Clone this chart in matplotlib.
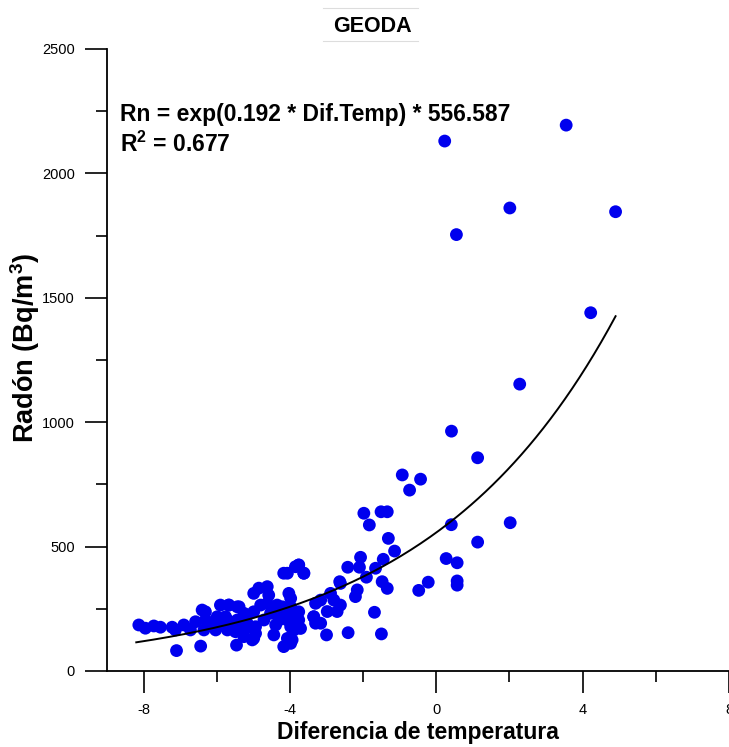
import matplotlib
matplotlib.use("Agg")
import matplotlib.pyplot as plt
import numpy as np
from matplotlib.lines import Line2D

plt.rcParams['font.family'] = ['Liberation Sans', 'DejaVu Sans']
plt.rcParams['mathtext.fontset'] = 'custom'
plt.rcParams['mathtext.bf'] = 'Liberation Sans:bold'
plt.rcParams['mathtext.rm'] = 'Liberation Sans:bold'
plt.rcParams['mathtext.default'] = 'bf'

# ---- data ----
dif_temp = [
    0.23, 3.55, 2.01, 0.55, 4.90, 4.22, 2.28, 0.415, 1.13, -0.93, -0.43, -0.73,
    0.41, 2.02, 1.13, 0.27, 0.57, -0.22, -0.48, 0.57, 0.57,
    -1.98, -1.51, -1.34, -1.83, -1.31, -1.14, -2.07, -1.45, -3.76, -3.62,
    -2.42, -2.10, -1.66, -1.91, -1.48, -1.34, -2.64, -2.16, -2.21, -1.69,
    -3.00, -2.41, -1.50, -3.98, -3.89, -3.76, -3.30, -3.16, -2.89, -2.62,
    -3.35, -3.16, -2.98, -2.71, -2.80, -2.62, -3.98,
    -8.13, -7.95, -7.72, -7.54, -7.22, -7.13, -7.10, -6.90, -6.72, -6.58,
    -6.44, -6.31, -6.17, -6.03, -5.90, -5.76, -5.67, -5.44, -5.71, -5.46,
    -5.53, -5.35, -5.17, -4.99, -5.26, -5.08, -5.26, -4.99, -4.94,
    -4.99, -4.62, -4.80, -4.71, -4.53, -4.44, -4.39, -4.07, -4.03, -3.85,
    -4.21, -4.07, -3.98, -3.94, -3.89, -4.62,
    -6.40, -6.31, -6.35, -5.99, -6.03, -5.67, -5.71, -5.62, -5.39, -5.44,
    -5.49, -5.03, -4.94, -5.26, -5.17, -4.58, -4.49, -4.35, -4.30,
    -4.17, -3.76, -3.62, -3.98, -4.17, -3.85, -3.76, -3.71, -3.89, -4.07,
    -4.17, -3.35, -3.30, -5.90, -4.85,
]
radon = [
    2130, 2194, 1861, 1754, 1846, 1440, 1153, 964, 857, 788, 771, 727,
    588, 596, 518, 452, 435, 357, 324, 362, 345,
    634, 640, 640, 587, 533, 482, 457, 449, 426, 393,
    417, 417, 413, 377, 359, 332, 359, 326, 299, 236,
    145, 154, 149, 258, 205, 205, 272, 285, 312, 352,
    218, 192, 239, 239, 285, 265, 111,
    185, 172, 181, 176, 176, 165, 82, 185, 165, 198,
    100, 238, 185, 205, 192, 218, 265, 258, 165, 104,
    192, 205, 225, 238, 165, 178, 138, 131, 178,
    312, 339, 265, 205, 232, 145, 185, 393, 312, 419,
    258, 205, 178, 125, 218, 272,
    245, 205, 165, 218, 165, 265, 205, 178, 258, 205,
    158, 125, 151, 232, 192, 305, 239, 265, 205,
    238, 426, 393, 292, 98, 205, 238, 171, 165, 131,
    393, 218, 192, 265, 333,
]

fit_rate = 0.192
fit_scale = 556.587
fit_range = (-8.2, 4.9)
equation = "Rn = exp(0.192 * Dif.Temp) * 556.587"
r2_text = "R$^{2}$ = 0.677"
title = "GEODA"
xlabel = "Diferencia de temperatura"
ylabel = "Radón (Bq/m$^{3}$)"
xticks = [-8, -4, 0, 4, 8]
xminor = [-6, -2, 2, 6]
yticks = [0, 500, 1000, 1500, 2000, 2500]
yminor = [250, 750, 1250, 1750, 2250]

# ---- figure ----
W, H = 729, 747
fig = plt.figure(figsize=(W / 100, H / 100), dpi=100)
ax = fig.add_axes([107 / W, 76 / H, (W - 107) / W, (671 - 49) / H])

ax.scatter(dif_temp, radon, s=85, color='#0000ee', edgecolors='none', zorder=3)

xf = np.linspace(fit_range[0], fit_range[1], 200)
ax.plot(xf, fit_scale * np.exp(fit_rate * xf), color='black', lw=1.4, zorder=4)

ax.set_xlim(-9, 8.0)
ax.set_ylim(0, 2500)
ax.set_xticks(xticks)
ax.set_xticks(xminor, minor=True)
ax.set_yticks(yticks)
ax.set_yticks(yminor, minor=True)
ax.set_xticklabels([str(v) for v in xticks])
ax.set_yticklabels([str(v) for v in yticks])

for s in ['top', 'right']:
    ax.spines[s].set_visible(False)
for s in ['left', 'bottom']:
    ax.spines[s].set_linewidth(1.3)

ax.tick_params(which='major', direction='out', length=16, width=1.2, pad=7,
               labelsize=10.5, colors='black')
ax.tick_params(which='minor', direction='out', length=8, width=1.2)

ax.set_xlabel(xlabel, fontsize=16.5, fontweight='bold', labelpad=3)
ax.set_ylabel(ylabel, fontsize=19.5, fontweight='bold')
ax.yaxis.set_label_coords((42 - 107) / 622, (671 - 348) / 622)

ax.text(120 / W, 1 - 115 / H, equation, transform=fig.transFigure,
        fontsize=16.5, fontweight='bold', va='center', ha='left')
ax.text(120 / W, 1 - 144 / H, r2_text, transform=fig.transFigure,
        fontsize=16.5, fontweight='bold', va='center', ha='left')

fig.text(372 / W, 1 - 26 / H, title, fontsize=15.5, fontweight='bold',
         ha='center', va='center')
for yy in (8, 41):
    fig.add_artist(Line2D([323 / W, 418 / W], [1 - yy / H, 1 - yy / H],
                          transform=fig.transFigure, color='#dddddd', lw=0.8))

fig.savefig('out.png', dpi=100)
